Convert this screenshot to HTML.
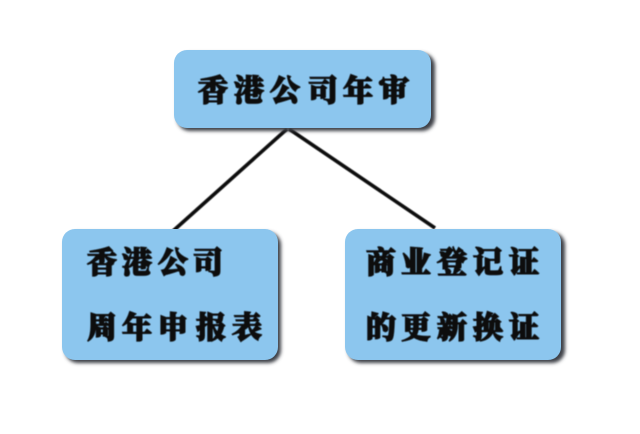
<!DOCTYPE html>
<html lang="zh">
<head>
<meta charset="utf-8">
<style>
html,body{margin:0;padding:0;background:#fff;width:640px;height:434px;overflow:hidden}
svg{display:block}
text{font-family:"Liberation Serif","Noto Serif CJK SC",serif;font-size:30px;font-weight:900;fill:#0b0d10;stroke:#0b0d10;stroke-width:1.4px;filter:url(#t)}
</style>
</head>
<body>
<svg width="640" height="434" viewBox="0 0 640 434" xmlns="http://www.w3.org/2000/svg">
<defs>
<filter id="s" x="-10%" y="-10%" width="120%" height="125%"><feGaussianBlur stdDeviation="1.8"/></filter>
<filter id="t" x="-5%" y="-20%" width="110%" height="140%"><feGaussianBlur stdDeviation="0.6"/></filter>
<filter id="l" x="-5%" y="-5%" width="110%" height="110%"><feGaussianBlur stdDeviation="0.4"/></filter>
</defs>
<rect width="640" height="434" fill="#fff"/>
<g stroke="#0a0a0a" stroke-width="3.6" stroke-linecap="butt" filter="url(#l)">
<line x1="287" y1="129" x2="173" y2="231"/>
<line x1="289" y1="129" x2="435" y2="228"/>
</g>
<rect x="177" y="53" width="258" height="78" rx="13" fill="#3c4146" filter="url(#s)"/>
<rect x="65" y="232" width="216" height="131" rx="13" fill="#3c4146" filter="url(#s)"/>
<rect x="348" y="232" width="217" height="131" rx="13" fill="#3c4146" filter="url(#s)"/>
<rect x="174" y="50" width="257" height="78" rx="13" fill="#8cc6ee"/>
<rect x="62" y="229" width="216" height="131" rx="13" fill="#8cc6ee"/>
<rect x="345" y="229" width="216" height="131" rx="13" fill="#8cc6ee"/>
<text x="198 234 270 308 343 379" y="101">香港公司年审</text>
<text x="87 122 158 193" y="273">香港公司</text>
<text x="87 122 158 196 232" y="338">周年申报表</text>
<text x="366 401 437 473 509" y="273">商业登记证</text>
<text x="366 401 437 473 509" y="338">的更新换证</text>
</svg>
</body>
</html>
